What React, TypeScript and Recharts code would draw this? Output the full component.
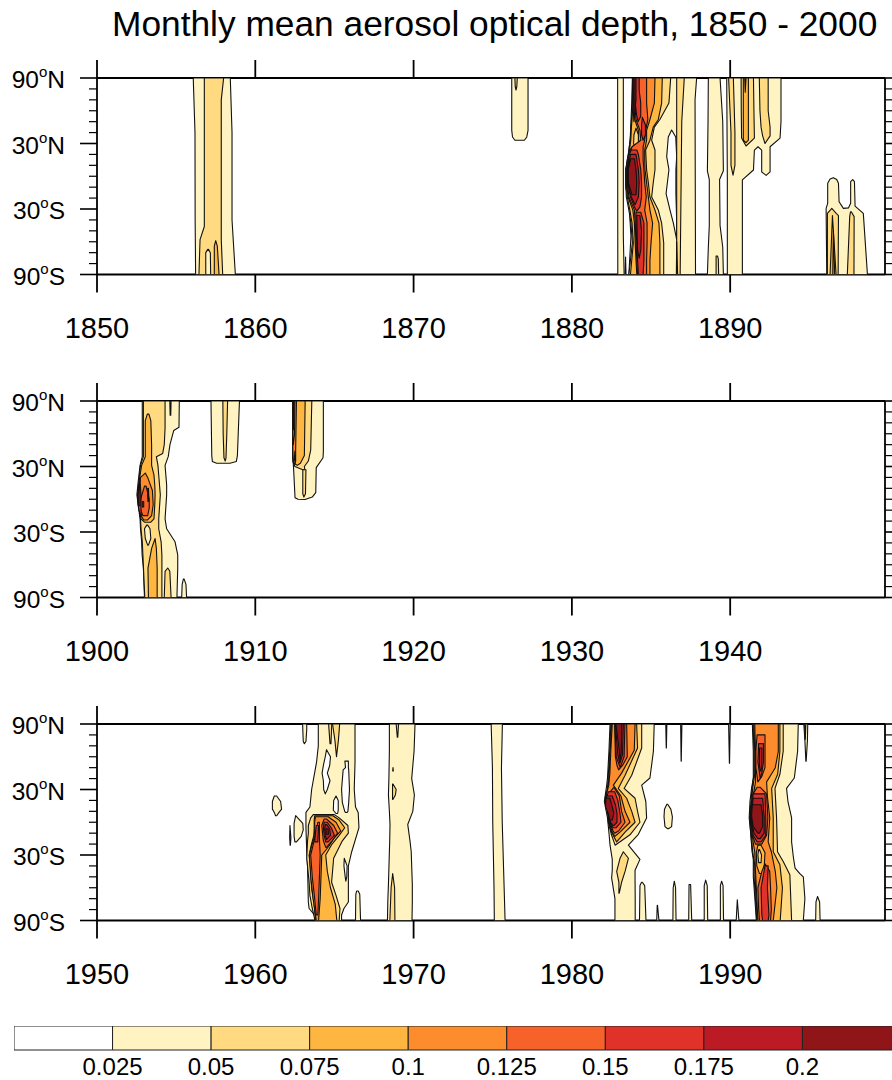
import React from 'react';
import { ScatterChart, Scatter, XAxis, YAxis, BarChart, Bar } from 'recharts';

type Vertex = number[];
type Contour = [number, Vertex[]];

const levelColors = ['#ffffff', '#fef3c1', '#ffda80', '#ffb640', '#fc8c2c', '#f6622a', '#e03228', '#bc1a24', '#901519'];
const colorbarTicks = [0.025, 0.05, 0.075, 0.1, 0.125, 0.15, 0.175, 0.2];
const latTicks = [-90, -80, -70, -60, -50, -40, -30, -20, -10, 0, 10, 20, 30, 40, 50, 60, 70, 80, 90];
const years1 = [1850, 1860, 1870, 1880, 1890];
const years2 = [1900, 1910, 1920, 1930, 1940];
const years3 = [1950, 1960, 1970, 1980, 1990];

// Rows of three are [lat, west edge year, east edge year]; rows of two are [year, lat].
const panel1: Contour[] = [
  [1, [[90, 1856.08, 1858.42], [40, 1856.19, 1858.53], [-40, 1856.2, 1858.53], [-90, 1856.23, 1858.74]]],
  [2, [[90, 1856.78, 1858.0], [70, 1856.78, 1857.85], [-46, 1856.78, 1857.85], [-58, 1856.51, 1857.85], [-90, 1856.44, 1857.94]]],
  [1, [[-67, 1857.0, 1857.04], [-70, 1856.87, 1857.16], [-90, 1856.87, 1857.18]]],
  [3, [[-59, 1857.5, 1857.5], [-64, 1857.41, 1857.6], [-90, 1857.41, 1857.71]]],
  [1, [[90, 1876.2, 1877.23], [42, 1876.2, 1877.23], [36, 1876.25, 1877.15], [33, 1876.4, 1877.0]]],
  [2, [[90, 1876.4, 1876.55], [82, 1876.42, 1876.52], [79, 1876.47, 1876.47]]],
  [1, [[90, 1882.89, 1887.88], [70, 1882.89, 1887.78], [-90, 1882.9, 1887.81]]],
  [0, [[90, 1883.25, 1883.82], [67, 1883.25, 1883.78], [36, 1883.25, 1883.69], [18, 1883.25, 1883.56], [6, 1883.25, 1883.4], [-10, 1883.25, 1883.4], [-25, 1883.25, 1883.61], [-55, 1883.25, 1883.73], [-90, 1883.3, 1883.6]]],
  [1, [[-74, 1883.39, 1883.39], [-90, 1883.36, 1883.42]]],
  [0, [[42.3, 1886.3, 1886.3], [36, 1886.09, 1886.56], [18, 1885.99, 1886.62], [6, 1886.13, 1886.57], [-16, 1885.95, 1886.57], [-31, 1886.2, 1886.6], [-43, 1886.41, 1886.62], [-58, 1886.62, 1886.62]]],
  [2, [[90, 1886.62, 1887.1], [50, 1886.62, 1886.94], [-90, 1886.62, 1886.84]]],
  [2, [[-60, 1886.62, 1886.62], [-90, 1886.6, 1886.68]]],
  [2, [[90, 1883.84, 1886.24], [67, 1883.82, 1886.13], [52, 1883.77, 1885.56], [45, 1883.73, 1885.21], [33, 1883.69, 1885.04], [24, 1883.6, 1885.25], [6, 1883.4, 1885.25], [-6, 1883.4, 1885.14], [-19, 1883.44, 1885.04], [-31, 1883.6, 1885.46], [-43, 1883.73, 1885.67], [-61, 1883.82, 1885.8], [-90, 1883.6, 1885.8]]],
  [3, [[90, 1883.88, 1885.71], [67, 1883.86, 1885.67], [52, 1883.8, 1885.46], [45, 1883.76, 1885.14], [33, 1883.72, 1884.93], [24, 1883.64, 1884.66], [6, 1883.44, 1884.72], [-6, 1883.44, 1884.83], [-19, 1883.5, 1884.93], [-31, 1883.66, 1885.25], [-43, 1883.8, 1885.5], [-61, 1883.88, 1885.56], [-90, 1883.7, 1885.56]]],
  [4, [[90, 1883.9, 1885.25], [67, 1883.95, 1885.21], [52, 1883.97, 1884.93], [42, 1884.2, 1884.72], [33, 1884.2, 1884.72], [24, 1883.65, 1884.6], [15, 1883.5, 1884.6], [6, 1883.46, 1884.62], [-6, 1883.46, 1884.72], [-19, 1883.55, 1884.83], [-31, 1883.85, 1884.93], [-43, 1883.95, 1885.1], [-61, 1884, 1885.0], [-77, 1884.05, 1884.93], [-90, 1884.1, 1884.93]]],
  [2, [[44, 1884.05, 1884.05], [38, 1883.92, 1884.2], [30, 1883.9, 1884.2], [24, 1884.05, 1884.1]]],
  [5, [[90, 1883.92, 1884.72], [67, 1883.97, 1884.72], [52, 1884.05, 1884.8], [42, 1884.3, 1884.66], [33, 1884.35, 1884.6], [27, 1883.8, 1884.5], [15, 1883.55, 1884.5], [6, 1883.5, 1884.55], [-6, 1883.5, 1884.6], [-19, 1883.6, 1884.7], [-31, 1883.95, 1884.6], [-43, 1884, 1884.75], [-61, 1884.05, 1884.75], [-77, 1884.1, 1884.72], [-90, 1884.15, 1884.72]]],
  [6, [[90, 1883.92, 1884.25], [79, 1883.97, 1884.25], [67, 1884.0, 1884.35], [55, 1884.1, 1884.35], [50, 1884.18, 1884.18]]],
  [6, [[54, 1884.45, 1884.45], [47, 1884.4, 1884.65], [38, 1884.4, 1884.65], [33, 1884.5, 1884.5]]],
  [6, [[24, 1883.75, 1884.1], [20, 1883.62, 1884.2], [6, 1883.53, 1884.35], [-6, 1883.53, 1884.4], [-19, 1883.7, 1884.4], [-28, 1883.95, 1884.3], [-32, 1884.1, 1884.1]]],
  [6, [[-33, 1884.05, 1884.35], [-43, 1884.05, 1884.55], [-61, 1884.1, 1884.55], [-77, 1884.15, 1884.55], [-90, 1884.2, 1884.5]]],
  [7, [[90, 1883.88, 1884.05], [70, 1883.9, 1884.05], [55, 1883.95, 1883.95]]],
  [8, [[90, 1883.87, 1883.98], [60, 1883.88, 1883.98], [50, 1883.92, 1883.92]]],
  [7, [[20, 1883.7, 1884.05], [6, 1883.55, 1884.2], [-6, 1883.55, 1884.25], [-19, 1883.75, 1884.2], [-26, 1884, 1884]]],
  [7, [[-36, 1884.1, 1884.3], [-50, 1884.12, 1884.4], [-68, 1884.15, 1884.35], [-75, 1884.25, 1884.25]]],
  [8, [[16, 1883.72, 1883.95], [6, 1883.56, 1884.05], [-6, 1883.57, 1884.1], [-17, 1883.8, 1884.05]]],
  [1, [[90, 1888.62, 1889.36], [50, 1888.6, 1889.53], [5, 1888.56, 1889.57], [-3, 1888.68, 1889.33], [-45, 1888.68, 1889.36], [-65, 1888.62, 1889.53], [-90, 1888.56, 1889.57]]],
  [2, [[-73, 1889.11, 1889.2], [-76, 1889.11, 1889.25], [-90, 1889.11, 1889.27]]],
  [1, [[1889.78, 90], [1893.21, 90], [1893.21, 50], [1893.15, 35], [1892.52, 27], [1892.52, 4], [1892.27, 0.8], [1891.99, 4], [1891.99, 24], [1891.76, 27], [1891.53, 24], [1891.47, 5.7], [1890.77, -3.4], [1890.77, -90], [1889.82, -90], [1889.82, -1]]],
  [2, [[90, 1889.9, 1890.2], [40, 1890.05, 1890.3], [10, 1890.05, 1890.3], [1, 1890.18, 1890.18]]],
  [2, [[90, 1890.69, 1891.47], [60, 1890.7, 1891.5], [35, 1890.72, 1891.53], [27.7, 1891.0, 1891.0]]],
  [3, [[90, 1890.83, 1891.15], [33, 1890.83, 1891.15], [30.7, 1891.0, 1891.0]]],
  [4, [[90, 1890.92, 1891.0], [77, 1890.95, 1890.95]]],
  [2, [[90, 1891.84, 1892.4], [60, 1891.88, 1892.4], [45, 1891.95, 1892.52], [37, 1892.05, 1892.52], [30, 1892.2, 1892.2]]],
  [1, [[1896.16, -6.5], [1896.31, -2.5], [1896.52, -1.3], [1896.73, -3], [1896.84, -6.5], [1896.88, -23.3], [1897.15, -29.4], [1897.47, -29], [1897.61, -24.8], [1897.61, -5], [1897.74, -3], [1897.85, -5], [1897.89, -27.3], [1898.41, -34], [1898.67, -90], [1896.1, -90], [1896.06, -29.4], [1896.16, -24.8]]],
  [2, [[-29.5, 1896.42, 1896.42], [-34, 1896.14, 1896.7], [-36, 1896.14, 1896.84], [-90, 1896.14, 1896.82]]],
  [3, [[-36, 1896.46, 1896.46], [-90, 1896.31, 1896.69]]],
  [4, [[-50, 1896.52, 1896.52], [-90, 1896.48, 1896.6]]],
  [2, [[-32.6, 1897.6, 1897.65], [-37, 1897.55, 1897.83], [-90, 1897.4, 1897.82]]],
];

const panel2: Contour[] = [
  [1, [[90, 1902.86, 1905.2], [66, 1902.86, 1905.18], [63, 1902.86, 1904.85], [50, 1902.86, 1904.61], [39, 1902.86, 1904.5], [31, 1902.72, 1904.3], [13, 1902.58, 1904.4], [4, 1902.52, 1904.4], [-18, 1902.72, 1904.3], [-27, 1902.75, 1904.4], [-39, 1902.82, 1904.93], [-51, 1902.85, 1905.1], [-63, 1902.93, 1905.1], [-90, 1903.0, 1905.05]]],
  [1, [[-73, 1905.46, 1905.5], [-78, 1905.38, 1905.62], [-90, 1905.35, 1905.66]]],
  [2, [[90, 1902.93, 1904.3], [65, 1902.93, 1904.3], [50, 1902.93, 1904.25], [42, 1902.93, 1904.15], [39, 1902.93, 1903.75], [31, 1902.75, 1903.85], [22, 1902.68, 1903.9], [4, 1902.6, 1904.0], [-18, 1902.75, 1903.9], [-27, 1902.78, 1903.9], [-39, 1902.86, 1904.05], [-51, 1902.9, 1904.1], [-90, 1903.02, 1904.1]]],
  [2, [[90, 1904.6, 1904.68], [77, 1904.62, 1904.66]]],
  [1, [[-23.7, 1903.14, 1903.2], [-27, 1903.0, 1903.35], [-36, 1903.05, 1903.4], [-42, 1903.2, 1903.25]]],
  [2, [[-63, 1904.47, 1904.47], [-66, 1904.3, 1904.6], [-90, 1904.25, 1904.68]]],
  [3, [[78, 1903.18, 1903.28], [72, 1903.05, 1903.4], [50, 1903.05, 1903.45], [39, 1903.05, 1903.45], [31, 1902.82, 1903.45], [22, 1902.72, 1903.6], [13, 1902.62, 1903.65], [4, 1902.58, 1903.67], [-5, 1902.6, 1903.65], [-18, 1902.78, 1903.6], [-21, 1903.0, 1903.4]]],
  [3, [[-36, 1903.67, 1903.67], [-45, 1903.45, 1903.75], [-63, 1903.22, 1903.8], [-90, 1903.25, 1903.8]]],
  [4, [[24, 1903.05, 1903.05], [20, 1902.75, 1903.2], [8, 1902.64, 1903.5], [-5, 1902.62, 1903.55], [-15, 1902.78, 1903.45], [-19, 1902.95, 1903.2]]],
  [5, [[12, 1903.0, 1903.1], [0, 1902.75, 1903.3], [-8, 1902.7, 1903.3], [-15, 1902.9, 1903.2]]],
  [6, [[18, 1902.72, 1902.72], [4, 1902.58, 1902.78], [-8, 1902.62, 1902.78], [-15, 1902.75, 1902.8]]],
  [7, [[12, 1902.68, 1902.72], [4, 1902.6, 1902.72], [-6, 1902.63, 1902.72]]],
  [6, [[-2, 1902.86, 1902.95], [-7, 1902.86, 1902.95]]],
  [4, [[10, 1903.2, 1903.25], [2, 1903.2, 1903.27], [-2, 1903.22, 1903.25]]],
  [1, [[90, 1907.2, 1909.0], [40, 1907.25, 1908.87], [34.5, 1907.29, 1908.8], [33, 1907.55, 1908.4]]],
  [2, [[90, 1907.95, 1908.25], [60, 1907.97, 1908.2], [38, 1908.02, 1908.15], [35, 1908.1, 1908.1]]],
  [1, [[1912.36, 90], [1914.3, 90], [1914.3, 44], [1914.28, 38], [1913.85, 29], [1913.82, 6], [1913.6, 2], [1913.14, -0.2], [1912.7, 0], [1912.51, 1.4], [1912.42, 28], [1912.36, 40]]],
  [2, [[90, 1912.37, 1913.57], [45, 1912.37, 1913.5], [35, 1912.37, 1913.35], [30, 1912.5, 1913.1], [27, 1913.0, 1913.13]]],
  [2, [[27, 1913.0, 1913.2], [5, 1913.0, 1913.17], [2, 1913.07, 1913.07]]],
  [3, [[90, 1912.37, 1913.15], [40, 1912.37, 1913.1], [33, 1912.45, 1912.85], [31, 1912.65, 1912.65]]],
  [4, [[90, 1912.37, 1912.6], [45, 1912.37, 1912.55], [35, 1912.4, 1912.55], [32, 1912.5, 1912.5]]],
  [5, [[90, 1912.37, 1912.5], [60, 1912.37, 1912.48], [50, 1912.38, 1912.4]]],
  [6, [[90, 1912.37, 1912.44], [64, 1912.38, 1912.42]]],
  [5, [[44, 1912.5, 1912.52], [35, 1912.46, 1912.54]]],
];

const panel3: Contour[] = [
  [1, [[24, 1961.2, 1961.35], [19, 1961.08, 1961.6], [12, 1961.08, 1961.66], [9, 1961.2, 1961.5], [6, 1961.28, 1961.35]]],
  [1, [[6, 1962.55, 1962.55], [-1, 1962.45, 1963.0], [-7, 1962.45, 1963.03], [-13, 1962.45, 1962.9], [-18, 1962.5, 1962.6]]],
  [1, [[-3, 1962.19, 1962.19], [-14, 1962.17, 1962.25], [-21, 1962.2, 1962.22]]],
  [1, [[90, 1962.99, 1963.25], [85, 1963.0, 1963.25], [74, 1963.03, 1963.2], [72, 1963.1, 1963.1]]],
  [1, [[90, 1963.98, 1966.3], [70, 1963.98, 1966.3], [55, 1963.87, 1966.3], [30, 1963.56, 1966.25], [14, 1963.45, 1966.33], [9, 1963.2, 1966.5], [-5, 1963.2, 1966.55], [-27, 1963.25, 1966.09], [-40, 1963.3, 1965.88], [-73, 1963.35, 1965.88], [-79, 1963.4, 1965.6], [-85, 1963.75, 1965.45], [-90, 1963.77, 1965.45]]],
  [0, [[66.5, 1964.5, 1964.5], [60, 1964.42, 1964.75], [52, 1964.3, 1964.7], [45, 1964.22, 1964.55], [38, 1964.3, 1964.72], [30, 1964.32, 1964.55], [26, 1964.42, 1964.42]]],
  [0, [[56, 1965.66, 1965.88], [50, 1965.7, 1965.88], [48, 1965.55, 1965.9], [30, 1965.45, 1965.95], [18, 1965.5, 1965.9], [10, 1965.65, 1965.85], [9, 1965.7, 1965.8]]],
  [0, [[24, 1965.1, 1965.1], [20, 1964.95, 1965.24], [11, 1964.93, 1965.24], [8, 1965.1, 1965.2]]],
  [0, [[-33, 1965.62, 1965.62], [-40, 1965.6, 1965.8], [-50, 1965.68, 1965.78], [-54, 1965.72, 1965.72]]],
  [1, [[-63, 1966.4, 1966.5], [-66, 1966.35, 1966.6], [-90, 1966.33, 1966.65]]],
  [2, [[90, 1964.88, 1965.33], [75, 1965.03, 1965.25], [60, 1965.13, 1965.13]]],
  [2, [[90, 1964.63, 1964.83], [72, 1964.72, 1964.78]]],
  [2, [[7, 1963.66, 1965.0], [4, 1963.5, 1965.3], [-3, 1963.35, 1965.85], [-10, 1963.35, 1965.88], [-17, 1963.3, 1965.5], [-33, 1963.25, 1964.95], [-55, 1963.4, 1964.82], [-67, 1963.45, 1965.1], [-79, 1963.6, 1965.35], [-90, 1963.77, 1965.3]]],
  [3, [[6, 1963.75, 1964.9], [2, 1963.72, 1965.3], [-5, 1963.72, 1965.65], [-12, 1963.7, 1965.3], [-20, 1963.55, 1964.85], [-30, 1963.4, 1964.45], [-45, 1963.5, 1964.55], [-60, 1963.55, 1964.75], [-75, 1963.72, 1965.05], [-90, 1963.8, 1965.15]]],
  [4, [[5, 1963.8, 1964.6], [0, 1963.75, 1965.1], [-8, 1963.75, 1965.4], [-15, 1963.7, 1964.95], [-22, 1963.55, 1964.65], [-30, 1963.42, 1964.2], [-50, 1963.5, 1964.15], [-70, 1963.65, 1964.1], [-80, 1963.75, 1964.05], [-90, 1963.85, 1964.0]]],
  [5, [[3, 1964.35, 1964.5], [-3, 1964.2, 1964.95], [-10, 1964.25, 1965.2], [-17, 1964.3, 1964.85], [-23, 1964.45, 1964.5]]],
  [5, [[0, 1963.95, 1964.05], [-15, 1963.75, 1964.05], [-30, 1963.5, 1964.1], [-50, 1963.6, 1964.05], [-70, 1963.75, 1964.0], [-85, 1963.85, 1963.95]]],
  [6, [[0, 1964.35, 1964.55], [-5, 1964.3, 1964.8], [-12, 1964.35, 1965.0], [-18, 1964.45, 1964.6]]],
  [7, [[-2, 1964.42, 1964.5], [-6, 1964.38, 1964.7], [-12, 1964.42, 1964.75], [-16, 1964.5, 1964.5]]],
  [8, [[-6, 1964.45, 1964.6], [-11, 1964.48, 1964.62]]],
  [6, [[-3, 1963.85, 1964.0], [-18, 1963.75, 1963.95]]],
  [1, [[90, 1968.47, 1970.09], [65, 1968.47, 1970.03], [40, 1968.44, 1969.88], [25, 1968.41, 1970.05], [10, 1968.47, 1969.95], [-2, 1968.51, 1969.63], [-18, 1968.49, 1969.78], [-27, 1968.47, 1969.85], [-57, 1968.41, 1969.92], [-73, 1968.37, 1969.92], [-90, 1968.35, 1969.9]]],
  [2, [[90, 1968.9, 1969.05], [78, 1968.97, 1969.0]]],
  [2, [[50, 1968.7, 1968.7], [47, 1968.68, 1968.72]]],
  [2, [[35, 1968.67, 1968.7], [30, 1968.67, 1968.9], [25, 1968.67, 1968.85], [21, 1968.67, 1968.7]]],
  [2, [[-47, 1968.68, 1968.68], [-60, 1968.58, 1968.8], [-90, 1968.5, 1968.82]]],
  [1, [[90, 1974.9, 1975.61], [50, 1974.98, 1975.55], [0, 1975.0, 1975.6], [-60, 1975.08, 1975.72], [-90, 1975.1, 1975.78]]],
  [1, [[90, 1982.41, 1985.2], [65, 1982.34, 1985.15], [40.5, 1982.25, 1984.93], [34, 1982.2, 1984.41], [19, 1982.05, 1984.67], [4, 1982.25, 1984.72], [-11, 1982.35, 1984.2], [-21, 1982.41, 1983.57], [-34, 1982.55, 1984.3], [-44, 1982.55, 1983.99], [-51, 1982.51, 1983.99], [-70, 1982.72, 1984.0], [-90, 1982.72, 1984.0]]],
  [1, [[-55, 1984.4, 1984.45], [-58, 1984.3, 1984.6], [-90, 1984.27, 1984.68]]],
  [1, [[90, 1985.93, 1986.0], [68, 1985.96, 1985.97]]],
  [1, [[90, 1986.87, 1986.95], [56, 1986.9, 1986.91]]],
  [1, [[90, 1989.9, 1990.0], [54, 1989.95, 1989.96]]],
  [1, [[16.5, 1986.0, 1986.05], [12, 1985.85, 1986.25], [5, 1985.82, 1986.35], [-4, 1985.88, 1986.3], [-6, 1986.05, 1986.1]]],
  [1, [[-76, 1985.39, 1985.41], [-90, 1985.36, 1985.5]]],
  [1, [[-54, 1986.47, 1986.47], [-60, 1986.4, 1986.55], [-90, 1986.38, 1986.58]]],
  [1, [[-57, 1987.4, 1987.5], [-90, 1987.38, 1987.57]]],
  [1, [[-53, 1988.45, 1988.45], [-58, 1988.36, 1988.55], [-90, 1988.36, 1988.58]]],
  [1, [[-54, 1989.46, 1989.46], [-58, 1989.38, 1989.55], [-90, 1989.38, 1989.58]]],
  [1, [[-71, 1990.45, 1990.45], [-90, 1990.38, 1990.55]]],
  [2, [[90, 1982.46, 1984.41], [68, 1982.4, 1984.41], [43, 1982.3, 1983.78], [31, 1982.25, 1983.3], [22, 1982.1, 1983.99], [10, 1982.25, 1984.15], [0, 1982.3, 1984.3], [-11.5, 1982.5, 1983.67], [-21, 1982.73, 1982.73]]],
  [3, [[90, 1982.5, 1984.09], [68, 1982.43, 1984.15], [43, 1982.35, 1983.36], [31, 1982.28, 1982.93], [22, 1982.13, 1983.46], [10, 1982.28, 1983.78], [0, 1982.33, 1983.99], [-9, 1982.5, 1983.36], [-18, 1982.83, 1982.83]]],
  [4, [[90, 1982.55, 1983.99], [66, 1982.46, 1983.94], [45, 1982.4, 1983.14], [34, 1982.33, 1982.62], [24, 1982.15, 1983.1], [10, 1982.3, 1983.36], [0, 1982.36, 1983.67], [-9, 1982.55, 1983.04], [-13, 1982.72, 1982.72]]],
  [5, [[90, 1982.7, 1983.46], [60, 1982.75, 1983.5], [52, 1982.85, 1983.2], [48, 1982.95, 1982.95]]],
  [5, [[32, 1982.65, 1982.65], [24, 1982.2, 1983.0], [10, 1982.33, 1983.14], [0, 1982.4, 1983.36], [-8, 1982.6, 1982.95], [-10, 1982.7, 1982.7]]],
  [6, [[90, 1982.72, 1983.35], [60, 1982.8, 1983.3], [50, 1983.05, 1983.05]]],
  [7, [[90, 1982.75, 1983.25], [62, 1982.9, 1983.2], [54, 1983.03, 1983.03]]],
  [8, [[90, 1982.78, 1983.15], [65, 1983.0, 1983.12], [56, 1983.05, 1983.05]]],
  [6, [[28, 1982.3, 1982.7], [20, 1982.15, 1982.9], [8, 1982.3, 1983.04], [0, 1982.42, 1983.1], [-5, 1982.6, 1982.8]]],
  [7, [[24, 1982.2, 1982.55], [16, 1982.12, 1982.75], [8, 1982.3, 1982.85], [0, 1982.45, 1982.85], [-3, 1982.6, 1982.65]]],
  [8, [[22, 1982.15, 1982.4], [14, 1982.12, 1982.55], [8, 1982.3, 1982.65], [2, 1982.4, 1982.55]]],
  [2, [[-27, 1983.25, 1983.25], [-33, 1983.04, 1983.57], [-45, 1982.83, 1983.36], [-55, 1982.97, 1983.14], [-65, 1982.97, 1982.99]]],
  [1, [[90, 1991.4, 1994.3], [65, 1991.46, 1994.26], [40.5, 1991.46, 1994.05], [31, 1991.35, 1993.56], [19, 1991.25, 1993.65], [4, 1991.2, 1993.88], [-18, 1991.35, 1993.88], [-33, 1991.46, 1994.0], [-42, 1991.46, 1994.1], [-47, 1991.46, 1994.4], [-50, 1991.46, 1994.62], [-70, 1991.56, 1994.72], [-90, 1991.65, 1994.62]]],
  [2, [[90, 1991.45, 1993.35], [65, 1991.5, 1993.35], [44, 1991.5, 1993.14], [31, 1991.38, 1992.83], [4, 1991.23, 1992.93], [-27, 1991.38, 1992.99], [-36, 1991.5, 1993.35], [-48, 1991.5, 1993.77], [-90, 1991.68, 1993.88]]],
  [3, [[90, 1991.5, 1993.14], [65, 1991.55, 1993.14], [44, 1991.55, 1993.0], [31, 1991.42, 1992.62], [4, 1991.26, 1992.72], [-27, 1991.42, 1992.72], [-39, 1991.55, 1993.14], [-60, 1991.6, 1993.3], [-90, 1991.72, 1993.16]]],
  [4, [[90, 1991.55, 1993.04], [65, 1991.6, 1993.04], [50, 1991.6, 1992.85], [44, 1991.6, 1992.6], [37, 1991.6, 1992.3], [24, 1991.45, 1992.35], [4, 1991.28, 1992.5], [-18, 1991.45, 1992.4], [-27, 1991.55, 1992.6], [-45, 1991.6, 1992.85], [-60, 1991.65, 1992.95], [-90, 1991.75, 1992.72]]],
  [3, [[-21, 1991.75, 1991.95], [-28, 1991.65, 1992.2], [-40, 1991.68, 1992.15], [-47, 1991.85, 1992.05]]],
  [2, [[-25, 1991.8, 1991.85], [-30, 1991.75, 1991.98], [-37, 1991.8, 1991.95]]],
  [5, [[80, 1991.7, 1992.2], [65, 1991.62, 1992.2], [50, 1991.62, 1992.2], [42, 1991.7, 1992.0], [37, 1991.75, 1991.75]]],
  [5, [[32, 1991.7, 1991.9], [26, 1991.45, 1992.3], [4, 1991.3, 1992.38], [-12, 1991.4, 1992.3], [-20, 1991.6, 1992.0]]],
  [5, [[-38, 1992.2, 1992.2], [-45, 1992.0, 1992.5], [-60, 1991.75, 1992.55], [-80, 1991.8, 1992.6], [-90, 1991.85, 1992.55]]],
  [6, [[72, 1991.8, 1992.1], [55, 1991.75, 1992.1], [45, 1991.85, 1992.0], [40, 1991.9, 1991.9]]],
  [7, [[68, 1991.85, 1992.0], [52, 1991.85, 1992.0], [47, 1991.9, 1991.95]]],
  [6, [[26, 1991.45, 1992.2], [4, 1991.32, 1992.25], [-12, 1991.45, 1992.25], [-18, 1991.7, 1991.95]]],
  [7, [[22, 1991.45, 1992.05], [4, 1991.33, 1992.15], [-10, 1991.5, 1992.15], [-15, 1991.75, 1991.9]]],
  [8, [[16, 1991.4, 1991.95], [6, 1991.35, 1992.05], [-4, 1991.45, 1992.05], [-10, 1991.75, 1991.85]]],
  [6, [[-40, 1992.2, 1992.4], [-60, 1991.95, 1992.35], [-85, 1992.0, 1992.45], [-90, 1992.05, 1992.4]]],
  [1, [[-68, 1995.52, 1995.52], [-73, 1995.42, 1995.65], [-90, 1995.4, 1995.68]]],
  [1, [[90, 1994.65, 1994.9], [75, 1994.72, 1994.88], [56, 1994.78, 1994.8]]],
  [2, [[90, 1994.7, 1994.78], [76, 1994.73, 1994.75]]],
];

const toPoints = (rows: Vertex[]) => {
  if (rows[0].length === 2) return rows.map(([x, y]) => ({ x, y }));
  const west = rows.map(([lat, w]) => ({ x: w, y: lat }));
  const east = rows.map(([lat, , e]) => ({ x: e, y: lat })).reverse();
  return [...west, ...east];
};

const FONT = '"Liberation Sans", Arial, sans-serif';
const AXIS = { stroke: '#000', strokeWidth: 1.8 };

const LatTickLeft = ({ x, y, payload }: any) => {
  const v = payload.value;
  const major = Math.abs(v) === 90 || Math.abs(v) === 30;
  return (
    <g>
      <line x1={x - (major ? 17 : 8)} x2={x} y1={y} y2={y} stroke="#000" strokeWidth={major ? 1.6 : 1.2} />
      {major && (
        <text x={x - 32} y={y + 10} textAnchor="end" fontFamily={FONT} fontSize={24.5} fill="#000">
          <tspan>{Math.abs(v)}</tspan>
          <tspan dy={-11} fontSize={15}>o</tspan>
          <tspan dy={11}>{v > 0 ? 'N' : 'S'}</tspan>
        </text>
      )}
    </g>
  );
};

const LatTickRight = ({ x, y, payload }: any) => {
  const major = Math.abs(payload.value) === 90 || Math.abs(payload.value) === 30;
  return <line x1={x} x2={x + 8} y1={y} y2={y} stroke="#000" strokeWidth={major ? 1.6 : 1.2} />;
};

const YearTickTop = ({ x, y }: any) => <line x1={x} x2={x} y1={y} y2={y - 18} stroke="#000" strokeWidth={1.8} />;

const Panel = ({ top, contours, years }: { top: number; contours: Contour[]; years: number[] }) => (
  <div style={{ position: 'absolute', left: 0, top }}>
    <ScatterChart width={892} height={335} margin={{ top: 20, right: 0, bottom: 0, left: 0 }}>
      <XAxis xAxisId="t" orientation="top" type="number" dataKey="x" domain={[years[0], years[0] + 49.78]} allowDataOverflow ticks={years} interval={0} height={40} tickSize={0} tickMargin={0} tickLine={false} axisLine={AXIS} tick={<YearTickTop />} />
      <XAxis xAxisId="b" orientation="bottom" type="number" dataKey="x" domain={[years[0], years[0] + 49.78]} allowDataOverflow ticks={years} interval={0} height={78.5} tickSize={18} tickMargin={25} axisLine={AXIS} tickLine={AXIS} tick={{ fontFamily: FONT, fontSize: 29, fill: '#000' }} />
      <YAxis yAxisId="l" orientation="left" type="number" dataKey="y" domain={[-90, 90]} allowDataOverflow ticks={latTicks} interval={0} width={97} tickSize={0} tickMargin={0} tickLine={false} axisLine={AXIS} tick={<LatTickLeft />} />
      <YAxis yAxisId="r" orientation="right" type="number" dataKey="y" domain={[-90, 90]} allowDataOverflow ticks={latTicks} interval={0} width={7} tickSize={0} tickMargin={0} tickLine={false} axisLine={AXIS} tick={<LatTickRight />} />
      {contours.map(([level, rows], i) => (
        <Scatter
          key={i}
          xAxisId="b"
          yAxisId="l"
          data={toPoints(rows)}
          isAnimationActive={false}
          shape={() => null}
          line={(p: any) => (
            <path
              d={'M' + p.points.map((q: any) => `${q.x},${q.y}`).join('L') + 'Z'}
              fill={levelColors[level]}
              stroke="#111"
              strokeWidth={1.1}
              strokeLinejoin="round"
            />
          )}
        />
      ))}
    </ScatterChart>
  </div>
);

const colorbarRow = [Object.fromEntries(levelColors.map((_, i) => [`c${i}`, 0.025]))];

const Colorbar = () => (
  <div style={{ position: 'absolute', left: 14, top: 1026 }}>
    <BarChart width={887} height={54} layout="vertical" data={colorbarRow} barCategoryGap={0} margin={{ top: 0, right: 0, bottom: 0, left: 0 }}>
      <XAxis type="number" domain={[0, 0.225]} allowDataOverflow ticks={colorbarTicks} interval={0} height={30} axisLine={false} tickLine={false} tickMargin={2} tick={{ fontFamily: FONT, fontSize: 24, fill: '#000' }} tickFormatter={(v: number) => String(v)} />
      <YAxis type="category" hide />
      {levelColors.map((c, i) => (
        <Bar key={c} dataKey={`c${i}`} stackId="s" fill={c} stroke="#222" strokeWidth={1} isAnimationActive={false} />
      ))}
    </BarChart>
  </div>
);

export default function App() {
  return (
    <div style={{ position: 'absolute', left: 0, top: 0, width: 892, height: 1080, overflow: 'hidden', background: '#fff' }}>
      <div style={{ position: 'absolute', left: 112, top: 4, fontFamily: FONT, fontSize: 35.3, whiteSpace: 'nowrap', color: '#000' }}>
        Monthly mean aerosol optical depth, 1850 - 2000
      </div>
      <Panel top={18} contours={panel1} years={years1} />
      <Panel top={341} contours={panel2} years={years2} />
      <Panel top={664} contours={panel3} years={years3} />
      <Colorbar />
    </div>
  );
}
